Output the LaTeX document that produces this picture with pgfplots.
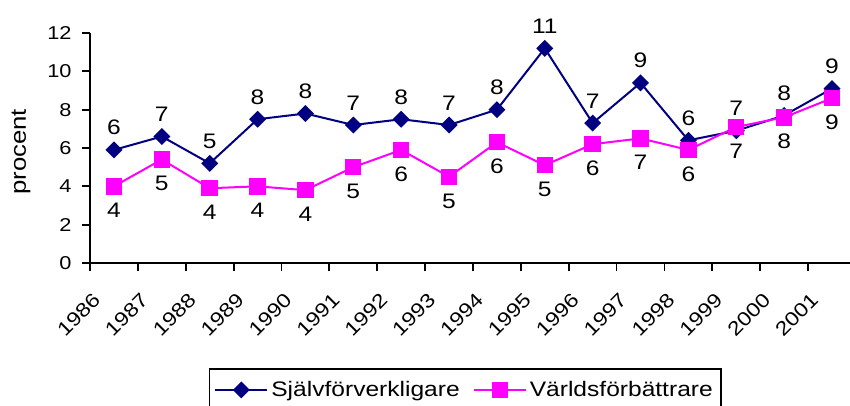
\documentclass[border=0pt]{standalone}
\usepackage{fontspec}
\setmainfont{Liberation Sans}[FakeStretch=1.17]
\usepackage{pgfplots}
\pgfplotsset{compat=1.18}
\definecolor{navyb}{RGB}{0,0,128}
\definecolor{mag}{RGB}{255,0,255}
\begin{document}
\begin{tikzpicture}
\begin{axis}[
  at={(45pt,-131.5pt)}, anchor=south west,
  scale only axis, width=380pt, height=115pt,
  xmin=-0.5, xmax=15.376, ymin=0, ymax=12,
  axis lines=left, axis line style={-, line width=0.9pt, black},
  /pgf/number format/assume math mode=true,
  ytick={0,2,4,6,8,10,12},
  xtick={0,...,15},
  xticklabels={1986,1987,1988,1989,1990,1991,1992,1993,1994,1995,1996,1997,1998,1999,2000,2001},
  major x tick style={draw=none},
  minor xtick={-0.5,0.5,1.5,2.5,3.5,4.5,5.5,6.5,7.5,8.5,9.5,10.5,11.5,12.5,13.5,14.5,15.5},
  tick align=outside, major tick length=4pt, minor tick length=4pt,
  every tick/.style={line width=0.9pt, black},
  minor x tick style={line width=0.9pt, black},
  yticklabel style={font=\fontsize{9.3}{11}\selectfont, inner sep=0pt, anchor=east, xshift=-5pt},
  xticklabel style={font=\fontsize{9.8}{11}\selectfont, inner sep=0pt, xshift=-8.5pt, yshift=-12.5pt, rotate=45, anchor=east},
  ylabel={procent},
  ylabel style={at={(axis description cs:-0.0908,0.483)}, anchor=center, font=\fontsize{11}{13}\selectfont},
  clip=false,
  legend columns=2,
  legend style={at={(axis description cs:0.4935,-0.4565)}, anchor=north, draw=black, line width=0.8pt,
    font=\fontsize{10.5}{12}\selectfont, inner xsep=2.5pt, inner ysep=4.5pt,
    nodes={inner sep=1.5pt},
    /tikz/every even column/.append style={column sep=5pt}},
  legend image code/.code={\draw[mark repeat=2,mark phase=2,#1] plot coordinates {(0pt,0pt) (13pt,0pt) (26pt,0pt)};},
]
\addplot[navyb, line width=1pt, mark=square*, mark size=2.5pt, mark options={rotate=45, solid, fill=navyb},
  nodes near coords, point meta=explicit symbolic,
  every node near coord/.append style={font=\fontsize{10.5}{12}\selectfont, text=black, inner sep=0pt, anchor=south, yshift=7pt}]
coordinates {
(0,5.9)[6] (1,6.6)[7] (2,5.2)[5] (3,7.5)[8] (4,7.8)[8] (5,7.2)[7] (6,7.5)[8] (7,7.2)[7]
(8,8.0)[8] (9,11.2)[11] (10,7.3)[7] (11,9.4)[9] (12,6.4)[6] (13,6.9)[7] (14,7.7)[8] (15,9.1)[9]
};
\addlegendentry{Självförverkligare}
\addplot[mag, line width=1pt, mark=square*, mark size=3.6pt, mark options={solid, fill=mag},
  nodes near coords, point meta=explicit symbolic,
  every node near coord/.append style={font=\fontsize{10.5}{12}\selectfont, text=black, inner sep=0pt, anchor=north, yshift=-8pt}]
coordinates {
(0,4.0)[4] (1,5.4)[5] (2,3.9)[4] (3,4.0)[4] (4,3.8)[4] (5,5.0)[5] (6,5.9)[6] (7,4.5)[5]
(8,6.3)[6] (9,5.1)[5] (10,6.2)[6] (11,6.5)[7] (12,5.9)[6] (13,7.1)[7] (14,7.6)[8] (15,8.6)[9]
};
\addlegendentry{Världsförbättrare}
\end{axis}
\pgfresetboundingbox
\path[use as bounding box] (0,0) rectangle (425pt,-203pt);
\end{tikzpicture}
\end{document}
